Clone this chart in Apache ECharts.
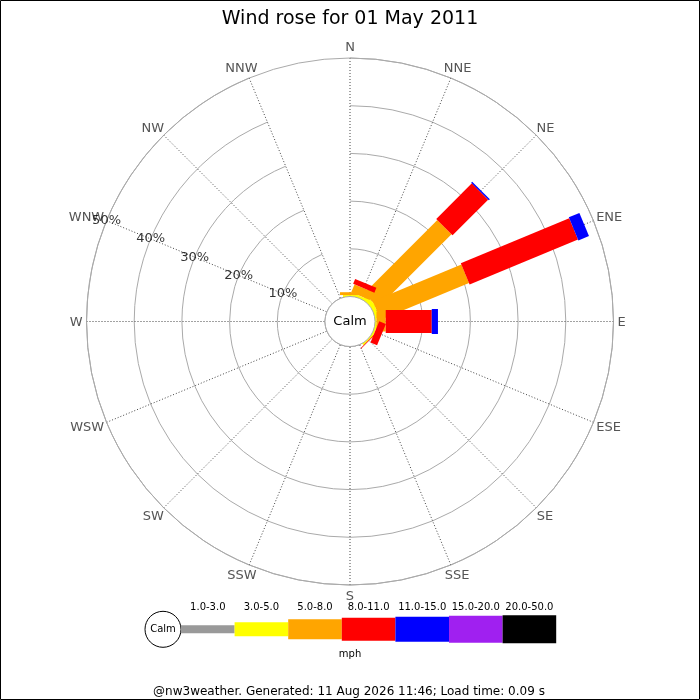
<!DOCTYPE html>
<html>
<head>
<meta charset="utf-8">
<title>Wind rose</title>
<script src="https://cdn.jsdelivr.net/npm/echarts@6/dist/echarts.min.js"></script>
<style>
    html, body { margin: 0; padding: 0; background: #fff; }
    #chart { width: 700px; height: 700px; }
</style>
</head>
<body>
<div id="chart"></div>
<script>
// 16 compass points, clockwise from north
const directions = ['N', 'NNE', 'NE', 'ENE', 'E', 'ESE', 'SE', 'SSE', 'S', 'SSW', 'SW', 'WSW', 'W', 'WNW', 'NW', 'NNW'];

// speed bins (mph) and their colours
const speedBins = ['1.0-3.0', '3.0-5.0', '5.0-8.0', '8.0-11.0', '11.0-15.0', '15.0-20.0', '20.0-50.0'];
const binColors = ['#999999', '#ffff00', '#ffa500', '#ff0000', '#0000ff', '#a020f0', '#000000'];

// frequency (% of the day) per direction, one array per speed bin
const bin1to3   = [0,   0,   0,     0,    0,    0,   0,    0, 0, 0, 0, 0, 0, 0, 0, 0];
const bin3to5   = [0.3, 0.5, 1.0,   0.8,  0.3,  0.4, 0.3,  0, 0, 0, 0, 0, 0, 0, 0, 0];
const bin5to8   = [0.6, 1.8, 21.75, 20.1, 1.95, 0,   0,    0, 0, 0, 0, 0, 0, 0, 0, 0];
const bin8to11  = [0,   1.1, 10.55, 24.6, 9.65, 1.5, 0.15, 0, 0, 0, 0, 0, 0, 0, 0, 0];
const bin11to15 = [0,   0,   0.3,   2.4,  1.3,  0,   0,    0, 0, 0, 0, 0, 0, 0, 0, 0];
const bin15to20 = [0,   0,   0,     0,    0,    0,   0,    0, 0, 0, 0, 0, 0, 0, 0, 0];
const bin20to50 = [0,   0,   0,     0,    0,    0,   0,    0, 0, 0, 0, 0, 0, 0, 0, 0];
const binValues = [bin1to3, bin3to5, bin5to8, bin8to11, bin11to15, bin15to20, bin20to50];

// radial rings (%)
const radialTicks = [10, 20, 30, 40, 50];

const titleText = 'Wind rose for 01 May 2011';
const footerText = '@nw3weather. Generated: 11 Aug 2026 11:46; Load time: 0.09 s';

// bar thickness per speed bin, in px
const barWidths = [8, 14, 20, 23, 25, 27, 28];

const FONT = 'DejaVu Sans';
const chart = echarts.init(document.getElementById('chart'));

const measureCtx = document.createElement('canvas').getContext('2d');
measureCtx.font = '13px "' + FONT + '"';

function unitFromCenter(cs, p) {
    const ux = p[0] - cs.cx, uy = p[1] - cs.cy;
    const len = Math.sqrt(ux * ux + uy * uy) || 1;
    return [ux / len, uy / len];
}

function barRenderer(width, color) {
    return function (params, api) {
        const cs = params.coordSys;
        const start = api.value(0);
        const end = api.value(1);
        const dir = api.value(2);
        if (!(end > start)) return null;
        const outer = api.coord([end, dir]);
        const inner = start > 0 ? api.coord([start, dir]) : [cs.cx, cs.cy];
        const u = unitFromCenter(cs, api.coord([50, dir]));
        const nx = -u[1] * width / 2, ny = u[0] * width / 2;
        return {
            type: 'polygon',
            shape: {
                points: [
                    [inner[0] + nx, inner[1] + ny],
                    [outer[0] + nx, outer[1] + ny],
                    [outer[0] - nx, outer[1] - ny],
                    [inner[0] - nx, inner[1] - ny]
                ]
            },
            style: { fill: color, stroke: null }
        };
    };
}

// stacked segments, one custom series per speed bin
const cumulative = directions.map(() => 0);
const barSeries = speedBins.map((bin, b) => {
    const data = [];
    directions.forEach((d, i) => {
        const start = cumulative[i];
        const end = start + binValues[b][i];
        cumulative[i] = end;
        if (binValues[b][i] > 0) data.push([start, end, i]);
    });
    return {
        name: bin,
        type: 'custom',
        coordinateSystem: 'polar',
        renderItem: barRenderer(barWidths[b], binColors[b]),
        encode: { radius: [0, 1], angle: 2 },
        data: data,
        z: 2 + b * 0.01,
        silent: true
    };
});

// legend drawn as graphic elements
const legendX0 = 181, legendSeg = 53.6, legendY = 629.3;
const legendGraphics = [
    {
        type: 'circle',
        shape: { cx: 163, cy: legendY, r: 18 },
        style: { fill: '#fff', stroke: '#000', lineWidth: 1 }
    },
    {
        type: 'text',
        x: 163, y: legendY,
        style: { text: 'Calm', fill: '#000', font: '10px "' + FONT + '"', align: 'center', verticalAlign: 'middle' }
    },
    {
        type: 'text',
        x: 350, y: 654,
        style: { text: 'mph', fill: '#000', font: '10px "' + FONT + '"', align: 'center', verticalAlign: 'middle' }
    },
    {
        type: 'text',
        x: 349, y: 692,
        style: { text: footerText, fill: '#000', font: '12px "' + FONT + '"', align: 'center', verticalAlign: 'middle' }
    },
    {
        type: 'rect',
        shape: { x: 0.5, y: 0.5, width: 699, height: 699 },
        style: { fill: 'none', stroke: '#000', lineWidth: 1 },
        z: 100
    }
];
speedBins.forEach((bin, b) => {
    const x = legendX0 + b * legendSeg;
    legendGraphics.push({
        type: 'rect',
        shape: { x: x, y: legendY - barWidths[b] / 2, width: legendSeg, height: barWidths[b] },
        style: { fill: binColors[b] }
    });
    legendGraphics.push({
        type: 'text',
        x: x + legendSeg / 2, y: 607,
        style: { text: bin, fill: '#000', font: '10px "' + FONT + '"', align: 'center', verticalAlign: 'middle' }
    });
});

const option = {
    backgroundColor: '#fff',
    animation: false,
    textStyle: { fontFamily: FONT },
    title: {
        text: titleText,
        left: 'center',
        top: 5,
        textStyle: { fontSize: 19, fontWeight: 'normal', color: '#000', fontFamily: FONT }
    },
    polar: {
        center: [350, 321.5],
        radius: [25, 263.5]
    },
    angleAxis: {
        type: 'category',
        data: directions,
        boundaryGap: false,
        startAngle: 90,
        clockwise: true,
        axisLine: { show: true, lineStyle: { color: '#aaa', width: 1 } },
        axisTick: { show: false },
        axisLabel: { show: false },
        splitLine: { show: true, lineStyle: { color: '#444', width: 1, type: [1, 2] } },
        z: 1
    },
    radiusAxis: {
        type: 'value',
        min: 0,
        max: 50,
        interval: 10,
        axisLine: { show: false },
        axisTick: { show: false },
        axisLabel: { show: false },
        splitLine: { show: true, lineStyle: { color: '#aaa', width: 1 } },
        z: 1
    },
    graphic: legendGraphics,
    series: barSeries.concat([
        {
            // calm circle in the middle
            name: 'Calm',
            type: 'custom',
            coordinateSystem: 'polar',
            encode: { radius: 0, angle: 1 },
            data: [[0, 0]],
            z: 5,
            silent: true,
            renderItem: function (params, api) {
                const cs = params.coordSys;
                return {
                    type: 'group',
                    children: [
                        {
                            type: 'circle',
                            shape: { cx: cs.cx, cy: cs.cy, r: cs.r0 },
                            style: { fill: '#fff', stroke: '#aaa', lineWidth: 1 }
                        },
                        {
                            type: 'text',
                            x: cs.cx, y: cs.cy,
                            style: { text: 'Calm', fill: '#000', font: '13px "' + FONT + '"', align: 'center', verticalAlign: 'middle' }
                        }
                    ]
                };
            }
        },
        {
            // compass labels just outside the outer ring
            name: 'compass',
            type: 'custom',
            coordinateSystem: 'polar',
            encode: { radius: 0, angle: 1 },
            data: directions.map((d, i) => [50, i]),
            z: 5,
            silent: true,
            renderItem: function (params, api) {
                const cs = params.coordSys;
                const i = api.value(1);
                const p = api.coord([50, i]);
                const u = unitFromCenter(cs, p);
                const label = directions[i];
                const w = measureCtx.measureText(label).width;
                return {
                    type: 'text',
                    x: p[0] + u[0] * (4 + w / 2),
                    y: p[1] + u[1] * (4 + 7) + 1,
                    style: { text: label, fill: '#555', font: '13px "' + FONT + '"', align: 'center', verticalAlign: 'middle' }
                };
            }
        },
        {
            // ring labels along the WNW spoke
            name: 'rings',
            type: 'scatter',
            coordinateSystem: 'polar',
            symbolSize: 0,
            silent: true,
            z: 6,
            data: radialTicks.map(t => [t, directions.indexOf('WNW')]),
            label: {
                show: true,
                position: 'inside',
                color: '#000',
                fontSize: 13,
                fontFamily: FONT,
                formatter: p => p.value[0] + '%'
            }
        }
    ])
};

chart.setOption(option);
</script>
</body>
</html>
